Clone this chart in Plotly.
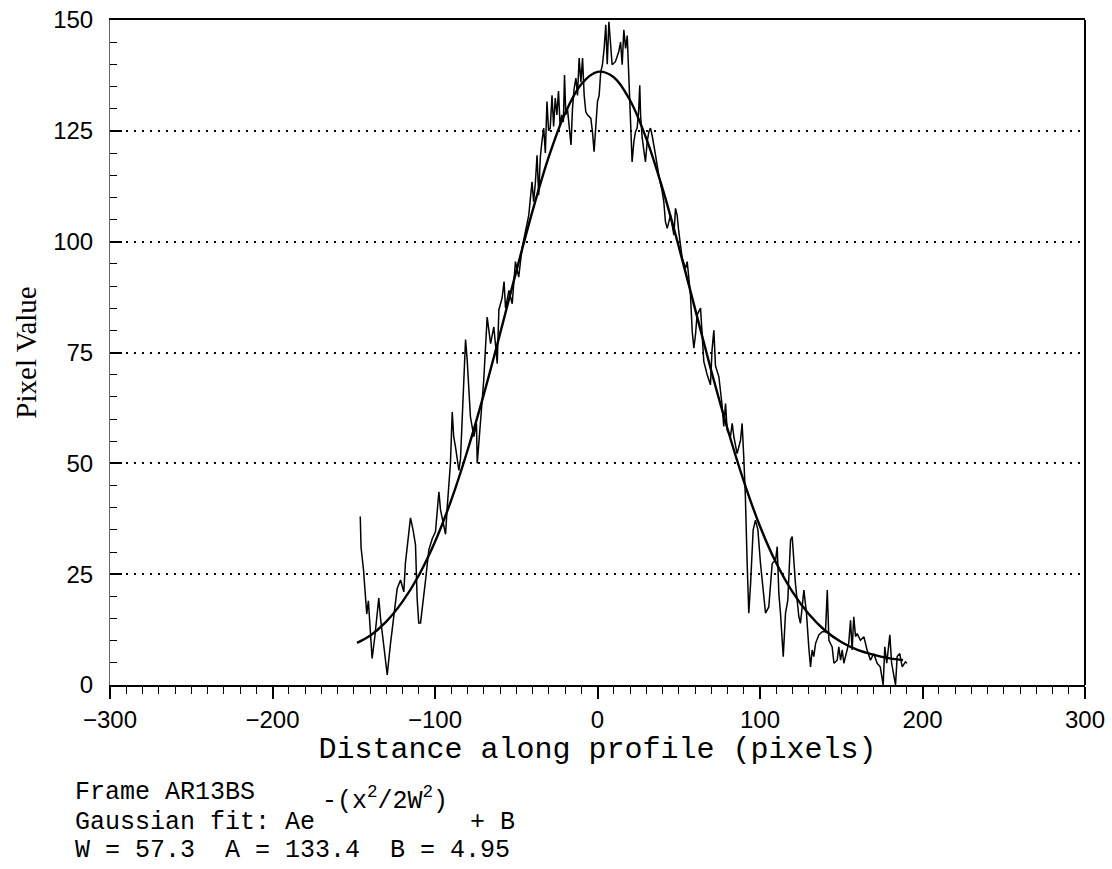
import plotly.graph_objects as go

profile_x = [
    -146, -145.5, -144, -143, -142, -141, -140, -138.7, -137, -135.5, -134.6, -133.5, -132.5, -131, -129.4,
    -127.5, -125.3, -123.3, -121.2, -119.2, -118.2, -116.5, -115.1, -113.5, -112, -111, -110, -108.9, -107.5,
    -105.8, -103.8, -101.7, -99.7, -97.6, -96.6, -93.5, -92.5, -90.5, -89.4, -88.5, -87.4, -85.3, -84.3,
    -82.5, -81.2, -80.2, -78.2, -76.1, -74.5, -74, -72, -70, -67.9, -65.8, -63.8, -61.7, -60.7,
    -58.7, -57.5, -56.6, -54.5, -52.5, -50.5, -48.5, -46.4, -44.4, -42.3, -40.3, -39.3, -38.2, -37.2, -36.2,
    -35.2, -34.2, -33.1, -32.1, -31.1, -30.1, -29.1, -28, -27, -26, -25, -24, -23, -22, -21, -20.3, -19.5,
    -18.5, -17.4, -16.3, -15.4, -14.4, -13.3, -12.3, -11.3, -10.2, -9.2, -8.2, -7.2, -6.2, -4.1, -3.1, -2.1,
    -1.1, 0, 1, 2, 3, 4.1, 5.1,
    6, 7, 8, 9, 11, 13.1, 14.2, 15.2, 16.2, 17.3, 18.3, 19.3, 20.3, 21.3, 22.4, 23.4, 24.4, 25.4, 26, 26.5,
    27.5, 28.5, 29.5, 30.6, 31.6, 32.6, 33.6, 35.7, 37.7, 39.8, 40.8, 41.8, 42.9, 44.9, 45.9, 47, 48, 49, 50,
    51.1, 52.1, 54.2, 55.2, 56.2, 57.2, 58.3, 59.3, 60.3, 61.3, 63.4,
    64.4, 65.4, 67.5, 69.5, 70.5, 71.6, 72.6, 74.7, 76.7, 77.7, 78.8, 79.8, 81.8, 82.9, 83.9, 85.9, 88, 89,
    90, 91, 92.1, 93.1, 94.2, 95.8, 97.2, 98.7, 100.3, 102.4, 103.4, 105.4, 106.5, 107.5, 109.6, 110.6, 111.6,
    112.6, 114.3, 115.7, 117.1, 118.8, 119.8, 121.8, 123.9, 124.9, 127, 128.6, 130, 131.1, 132.1, 133.1,
    134.2, 136.2, 138.3, 140.3, 141.4, 142.4, 144.4, 145.5, 147.5, 148.5, 149.6, 150.6, 151.6, 153.6, 154.6,
    155.7, 156.7, 157.7, 158.8, 159.8, 161.8, 163.9, 165.9, 168, 170, 172.1, 174, 175.8, 176.8, 178, 179.9,
    181, 183.4, 184.4, 186, 187.5, 189.5, 190.5,
]
profile_y = [
    38, 31, 26, 20, 16, 19, 12, 6, 11, 16, 19.6, 15, 12, 8, 2.3,
    9, 16, 21.7, 23.7, 21, 27.5, 33, 37.7, 35, 31.6, 19.5, 14, 14, 18,
    23.7, 30.5, 33, 34.6, 43.6, 39.5, 34, 40, 50, 61.6, 56, 53.7, 48.4, 51,
    65, 77.9, 73.4, 60.5, 56, 59, 50, 59, 68.8, 83, 77, 80.8, 72.5, 84.6,
    87.3, 91, 85, 89, 86, 95.5, 92, 98.6, 102.3, 106, 113.5, 109, 113.5, 119.5, 110.5,
    119, 122.6, 125.6, 120, 131.6, 125, 125.6, 133, 126, 132.4, 128.6, 134, 126, 128.6, 127, 137.6, 128.6,
    130, 126, 121.8, 130, 134.5, 136.9, 133, 141.4, 136, 141.4, 133, 129.3, 128.6, 127.8, 124.8, 120.3,
    127.1, 131.6, 133, 138.3, 139.8, 143.6, 148.9,
    140, 149.6, 145, 139.9, 140.6, 142.9, 145, 139.9, 147.8, 143.6, 146.5, 136.5, 130.8, 118, 122.6, 124.8, 125.6, 130, 135.3, 128.6,
    123.4, 121, 118, 122.6, 124.8, 125.6, 124, 119.6, 115, 111.3, 109, 104.5, 103, 106, 103.8, 101.5, 107.5, 106, 102.3,
    99.3, 96.3, 94, 95.5, 91.8, 88, 79.7, 76, 79, 83.5, 85,
    79, 73, 70, 67.7, 75.6, 80, 72, 69.5, 63, 58.3, 63.5, 57.5, 56, 59, 56, 52.2, 55.2, 59,
    51.5, 42.5, 27.4, 16.2, 22.9, 35, 37.2, 35, 27.4, 19.9, 16.2, 17.6, 22.9, 27.4, 28.2, 31.2, 20.6,
    16.2, 6.4, 16.2, 19.1, 32.7, 33.5, 22.9, 15.4, 13.9, 21.4, 16.2, 8.6, 4.1, 7.9, 6.4,
    9.4, 11.3, 12, 12, 21.4, 10.1, 8.6, 4.9, 5.6, 8.6, 5.6, 7.9, 4.9, 7.9, 9.4,
    14.6, 7.9, 15.4, 10.9, 11.6, 10.1, 10.9, 7.9, 5.6, 7.1, 4.9, 4.1, 0, 8.6, 4.9, 11.3,
    4.9, 0, 6.4, 7.1, 4.1, 5.2, 4.9,
]

# ---- Gaussian fit curve ----
fit_x = [-148, -140, -130, -120, -110, -100, -90, -80, -70, -60, -50, -40, -30, -20, -10, 0, 10, 20,
         30, 40, 50, 60, 70, 80, 90, 100, 110, 120, 130, 140, 150, 160, 170, 180, 188]
fit_y = [9.5, 11.1, 14.3, 18.8, 24.7, 32.3, 41.7, 52.9, 65.5, 79.2, 93.3, 106.9, 119.1, 128.9, 135.5,
         138.3, 137.1, 131.9, 123.3, 112.0, 98.9, 84.9, 70.9, 57.8, 46.0, 35.8, 27.5, 21.0, 16.0, 12.3,
         9.7, 7.9, 6.8, 6.0, 5.6]

x_ticks = [-300, -200, -100, 0, 100, 200, 300]
y_ticks = [0, 25, 50, 75, 100, 125, 150]

info_line1 = "Frame AR13BS"
info_line2a = "Gaussian fit: Ae"
info_exponent = "-(x<sup>2</sup>/2W<sup>2</sup>)"
info_line2b = "+ B"
info_line3 = "W = 57.3  A = 133.4  B = 4.95"

fig = go.Figure()
fig.add_trace(go.Scatter(x=profile_x, y=profile_y, mode="lines",
                         line=dict(color="black", width=1.5), showlegend=False))
fig.add_trace(go.Scatter(x=fit_x, y=fit_y, mode="lines",
                         line=dict(color="black", width=2.4, shape="spline"), showlegend=False))

mono = "Courier New, Liberation Mono, monospace"
sans = "Liberation Sans, Arial, sans-serif"
note_font = dict(family=mono, size=25, color="black")


def note(text, x, y):
    return dict(text=text, xref="paper", yref="paper", x=x, y=y,
                xanchor="left", yanchor="middle", showarrow=False, font=note_font)


fig.update_layout(
    width=1112, height=869,
    margin=dict(l=110, r=27, t=20, b=184),
    paper_bgcolor="white", plot_bgcolor="white",
    xaxis=dict(
        range=[-300, 300], tickvals=x_ticks, ticks="outside", ticklen=12, tickwidth=1.5,
        tickcolor="black", showgrid=False, zeroline=False,
        showline=True, linecolor="black", linewidth=2, mirror=True,
        tickfont=dict(family=sans, size=24, color="black"), ticklabeloverflow="allow",
        minor=dict(dtick=10, ticks="outside", ticklen=7, tickwidth=1.2, tickcolor="black", showgrid=False),
        title=dict(text="Distance along profile (pixels)", standoff=2,
                   font=dict(family=mono, size=30, color="black")),
        automargin=False,
    ),
    yaxis=dict(
        range=[0, 150], tickvals=y_ticks, ticks="inside", ticklen=12, tickwidth=1.5,
        tickcolor="black", showgrid=True, gridcolor="black", gridwidth=1.6, griddash="2px,6px",
        zeroline=False, showline=True, linecolor="#666666", linewidth=1,
        tickfont=dict(family=sans, size=24, color="black"), ticklabeloverflow="allow",
        ticklabelstandoff=11,
        minor=dict(dtick=5, ticks="inside", ticklen=7, tickwidth=1.2, tickcolor="black", showgrid=False),
        title=dict(text="Pixel Value", standoff=8,
                   font=dict(family="Liberation Serif, Times New Roman, serif", size=29, color="black")),
        automargin=False,
    ),
    shapes=[dict(type="line", xref="paper", yref="paper", x0=1, x1=1, y0=0, y1=1,
                 line=dict(color="black", width=2))],
    annotations=[
        note(info_line1, -0.0379, -0.1624),
        note(info_line2a, -0.0379, -0.2075),
        note(info_exponent, 0.2154, -0.1714),
        note(info_line2b, 0.3672, -0.2075),
        note(info_line3, -0.0379, -0.2496),
    ],
)

fig.write_html("out.html", config={"displayModeBar": False},
               post_script="document.body.style.margin='0';")
